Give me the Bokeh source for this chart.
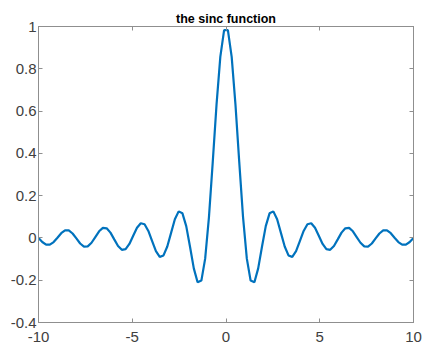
from bokeh.plotting import figure
from bokeh.models import LinearAxis, Range1d, FixedTicker
from bokeh.embed import file_html
from bokeh.resources import INLINE

# positive half of the sampled x grid (100 samples over [-10, 10])
x_pos = [0.101, 0.303, 0.505, 0.707, 0.909, 1.111, 1.313, 1.515, 1.717, 1.919,
         2.121, 2.323, 2.525, 2.727, 2.929, 3.131, 3.333, 3.535, 3.737, 3.939,
         4.141, 4.343, 4.545, 4.747, 4.949, 5.152, 5.354, 5.556, 5.758, 5.960,
         6.162, 6.364, 6.566, 6.768, 6.970, 7.172, 7.374, 7.576, 7.778, 7.980,
         8.182, 8.384, 8.586, 8.788, 8.990, 9.192, 9.394, 9.596, 9.798, 10.000]
y_pos = [0.9833, 0.8560, 0.6302, 0.3583, 0.0986, -0.0980, -0.2018, -0.2098, -0.1439, -0.0417,
         0.0558, 0.1164, 0.1257, 0.0882, 0.0239, -0.0408, -0.0827, -0.0895, -0.0626, -0.0153,
         0.0330, 0.0646, 0.0693, 0.0478, 0.0102, -0.0283, -0.0533, -0.0564, -0.0382, -0.0068,
         0.0251, 0.0455, 0.0475, 0.0314, 0.0043, -0.0228, -0.0398, -0.0408, -0.0263, -0.0025,
         0.0210, 0.0355, 0.0357, 0.0224, 0.0011, -0.0196, -0.0320, -0.0317, -0.0193, 0.0000]

x_vals = [-v for v in reversed(x_pos)] + x_pos
y_vals = list(reversed(y_pos)) + y_pos

x_ticks = [-10, -5, 0, 5, 10]
x_labels = {-10: "-10", -5: "-5", 0: "0", 5: "5", 10: "10"}
y_ticks = [-0.4, -0.2, 0, 0.2, 0.4, 0.6, 0.8, 1]
y_labels = {-0.4: "-0.4", -0.2: "-0.2", 0: "0", 0.2: "0.2", 0.4: "0.4",
            0.6: "0.6", 0.8: "0.8", 1: "1"}
title_text = "the sinc function"

FONT = "Liberation Sans"
AX = "#8f8f8f"
LBL = "#404040"

p = figure(width=430, height=351, output_backend="svg", toolbar_location=None,
           x_range=Range1d(-10, 10), y_range=Range1d(-0.4, 1),
           min_border_left=38, min_border_right=17, min_border_top=26,
           min_border_bottom=29, x_axis_type=None, y_axis_type=None)
p.grid.visible = False
p.outline_line_color = AX
p.background_fill_color = "white"
p.border_fill_color = "white"

p.title.text = title_text
p.title.align = "center"
p.title.text_font = FONT
p.title.text_font_style = "bold"
p.title.text_font_size = "12.5px"
p.title.text_color = "#000000"
p.title.standoff = 1
p.title.offset = 0


def style(ax, labels=True):
    ax.axis_line_color = AX
    ax.major_tick_line_color = AX
    ax.minor_tick_line_color = None
    ax.major_tick_in = 4
    ax.major_tick_out = 0
    ax.major_label_text_font = FONT
    ax.major_label_text_color = LBL
    ax.major_label_text_font_size = "15px"
    ax.major_label_standoff = 2
    if not labels:
        ax.major_label_overrides = {t: "" for t in ax.ticker.ticks}
        ax.major_label_standoff = 0


bx = LinearAxis(ticker=FixedTicker(ticks=x_ticks))
style(bx)
bx.major_label_standoff = 9
bx.major_label_overrides = {k: v for k, v in x_labels.items()}
p.add_layout(bx, "below")
tx = LinearAxis(ticker=FixedTicker(ticks=x_ticks))
style(tx, False)
p.add_layout(tx, "above")
ly = LinearAxis(ticker=FixedTicker(ticks=y_ticks))
style(ly)
ly.major_label_overrides = {k: v for k, v in y_labels.items()}
p.add_layout(ly, "left")
ry = LinearAxis(ticker=FixedTicker(ticks=y_ticks))
style(ry, False)
p.add_layout(ry, "right")

p.line(x_vals, y_vals, line_color="#0072BD", line_width=2.2)

open("out.html", "w").write(file_html(p, INLINE))
